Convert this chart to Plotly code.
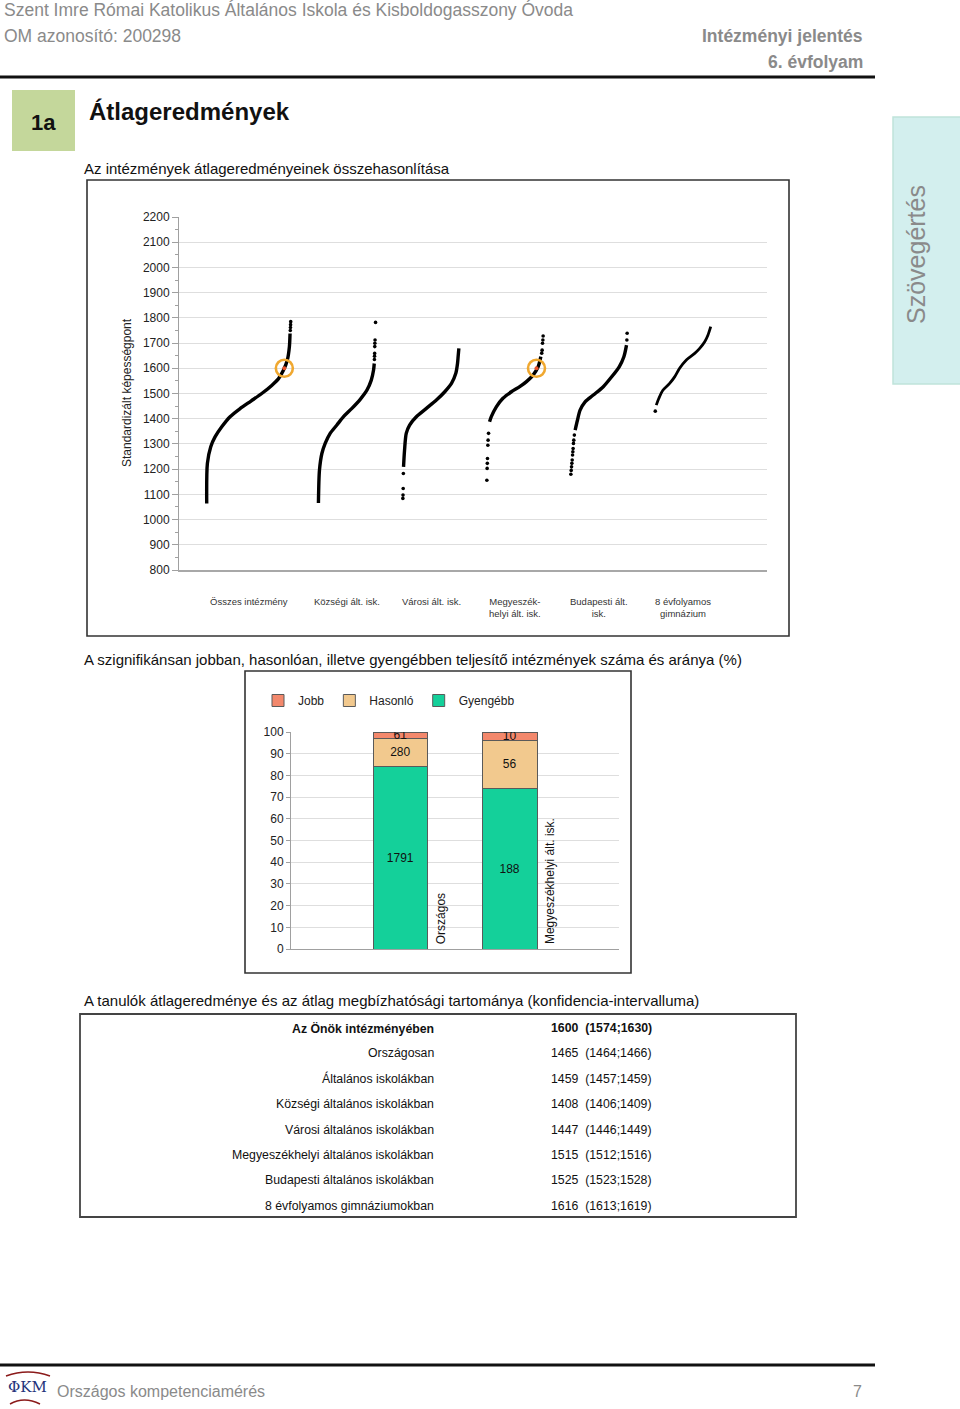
import plotly.graph_objects as go

W, H = 960, 1409


def px(x):
    return x / W


def py(y):
    return 1 - y / H


FONT = "Liberation Sans, Arial, sans-serif"
NARROW = "Liberation Sans Narrow, Arial Narrow, Liberation Sans, Arial, sans-serif"

# ---------------- data: chart 1 (sorted institution averages) ----------------
group_labels = ["Összes intézmény", "Községi ált. isk.", "Városi ált. isk.",
                "Megyeszék-<br>helyi ált. isk.", "Budapesti ált.<br>isk.",
                "8 évfolyamos<br>gimnázium"]
group_centers = [0.83, 2.0, 3.0, 4.0, 5.0, 6.0]
group_widths = [1.0, 0.68, 0.67, 0.67, 0.67, 0.66]

# rank (percent within group) and score along each dense curve
main_pct = [
    [0, 0.8, 4.8, 9.9, 17.9, 27.8, 39.7, 52.7, 65.5, 77.4, 85.3, 91.3, 96.0, 98.4, 99.2],
    [0, 1.8, 6.0, 11.8, 20.5, 32.3, 43.9, 58.6, 73.2, 84.9, 92.5, 96.5, 97.7],
    [1.2, 3.0, 6.0, 12.0, 24.0, 41.8, 59.6, 74.5, 86.4, 94.1, 97.1, 98.2, 99.5],
    [4.8, 7.9, 16.8, 28.6, 43.6, 58.4, 70.4, 82.1, 91.1, 95.9],
    [7.6, 11.7, 16.4, 25.3, 39.9, 57.6, 72.4, 85.9, 94.2, 98.9],
    [1.8, 6.5, 13.7, 25.9, 34.9, 43.9, 56.0, 71.1, 80.1, 89.2, 95.1, 100],
]
main_score = [
    [1064, 1223, 1289, 1328, 1368, 1408, 1440, 1470, 1500, 1532, 1558, 1592, 1633, 1685, 1738],
    [1066, 1196, 1262, 1302, 1342, 1375, 1408, 1441, 1477, 1513, 1553, 1593, 1619],
    [1209, 1275, 1342, 1375, 1408, 1441, 1474, 1507, 1540, 1580, 1619, 1646, 1679],
    [1388, 1408, 1447, 1481, 1507, 1527, 1547, 1573, 1606, 1646],
    [1355, 1394, 1434, 1467, 1494, 1527, 1566, 1606, 1646, 1692],
    [1454, 1481, 1513, 1540, 1566, 1600, 1633, 1659, 1679, 1705, 1732, 1765],
]
# isolated institutions at the ends of the curves
sparse_pct = [
    [99.5, 99.7, 99.85, 100],
    [98.0, 98.2, 98.4, 98.6, 98.8, 99.1, 100],
    [0, 0.3, 0.6, 0.9],
    [0, 0.5, 0.8, 1.1, 1.8, 2.2, 3.0, 97.5, 98.2, 98.9, 99.5, 100],
    [0, 0.6, 1.2, 1.8, 2.4, 3.0, 3.5, 4.0, 4.6, 5.2, 6.2, 99.5, 100],
    [0],
]
sparse_score = [
    [1750, 1762, 1773, 1785],
    [1635, 1648, 1659, 1686, 1699, 1712, 1782],
    [1084, 1097, 1123, 1183],
    [1156, 1203, 1223, 1242, 1295, 1315, 1342, 1660, 1672, 1699, 1712, 1728],
    [1180, 1195, 1209, 1223, 1236, 1256, 1269, 1282, 1302, 1315, 1335, 1712, 1739],
    [1430],
]
school_score = 1600
school_groups = [0, 3]
school_pct = [92.4, 88.2]

# ---------------- data: chart 2 (significance counts) ----------------
bar_categories = ["Országos", "Megyeszékhelyi ált. isk."]
bar_x = [0, 1]
count_jobb = [61, 10]
count_hasonlo = [280, 56]
count_gyengebb = [1791, 188]

# ---------------- data: table ----------------
table_labels = ["Az Önök intézményében", "Országosan", "Általános iskolákban",
                "Községi általános iskolákban", "Városi általános iskolákban",
                "Megyeszékhelyi általános iskolákban", "Budapesti általános iskolákban",
                "8 évfolyamos gimnáziumokban"]
table_mean = [1600, 1465, 1459, 1408, 1447, 1515, 1525, 1616]
table_lo = [1574, 1464, 1457, 1406, 1446, 1512, 1523, 1613]
table_hi = [1630, 1466, 1459, 1409, 1449, 1516, 1528, 1619]


def xpos(g, pcts):
    left = group_centers[g] - group_widths[g] / 2
    return [left + p / 100 * group_widths[g] for p in pcts]


fig = go.Figure()

for g in range(len(group_labels)):
    fig.add_trace(go.Scatter(
        x=xpos(g, main_pct[g]), y=main_score[g], mode="lines",
        line=dict(color="black", width=2.8 if g == 5 else 3.4, shape="spline", smoothing=0.8),
        showlegend=False, hoverinfo="skip", xaxis="x", yaxis="y"))
    fig.add_trace(go.Scatter(
        x=xpos(g, sparse_pct[g]), y=sparse_score[g], mode="markers",
        marker=dict(color="black", size=3.6),
        showlegend=False, hoverinfo="skip", xaxis="x", yaxis="y"))

sx = [xpos(g, [p])[0] for g, p in zip(school_groups, school_pct)]
fig.add_trace(go.Scatter(
    x=sx, y=[school_score] * len(sx), mode="markers",
    marker=dict(color="#e8502a", size=4),
    showlegend=False, hoverinfo="skip", xaxis="x", yaxis="y"))
fig.add_trace(go.Scatter(
    x=sx, y=[school_score] * len(sx), mode="markers",
    marker=dict(symbol="circle-open", size=17, color="#f0a830",
                line=dict(color="#f0a830", width=2.6)),
    showlegend=False, hoverinfo="skip", xaxis="x", yaxis="y"))

# stacked percentage bars
totals = [a + b + c for a, b, c in zip(count_jobb, count_hasonlo, count_gyengebb)]


def pct(counts):
    return [c / t * 100 for c, t in zip(counts, totals)]


for name, counts, color in [("Gyengébb", count_gyengebb, "#14d09a"),
                            ("Hasonló", count_hasonlo, "#f2c98e"),
                            ("Jobb", count_jobb, "#f3886c")]:
    fig.add_trace(go.Bar(
        x=bar_x, y=pct(counts), name=name, width=0.5,
        marker=dict(color=color, line=dict(color="#5a5a5a", width=1)),
        text=[str(c) for c in counts], textposition="inside",
        insidetextanchor="middle", textangle=0, constraintext="none",
        textfont=dict(family=FONT, size=12, color="#111"),
        hoverinfo="skip", xaxis="x2", yaxis="y2"))

ann = []


def A(x, y, text, size, color="#111", xanchor="left", yanchor="middle", bold=False,
      family=FONT, **kw):
    if bold:
        text = "<b>" + text + "</b>"
    d = dict(x=x, y=y, xref=kw.pop("xref", "paper"), yref=kw.pop("yref", "paper"),
             text=text, showarrow=False, xanchor=xanchor, yanchor=yanchor,
             font=dict(family=family, size=size, color=color))
    d.update(kw)
    ann.append(d)


# header
A(px(2), py(10), "Szent Imre Római Katolikus Általános Iskola és Kisboldogasszony Óvoda", 17.5,
  "#8a8a8a", family=NARROW)
A(px(2), py(36), "OM azonosító: 200298", 17.5, "#8a8a8a", family=NARROW)
A(px(865), py(36), "Intézményi jelentés", 17.5, "#8a8a8a", xanchor="right", bold=True,
  family=NARROW)
A(px(865), py(62), "6. évfolyam", 17.5, "#8a8a8a", xanchor="right", bold=True, family=NARROW)

A(px(43.5), py(122), "1a", 22, "#111", xanchor="center", bold=True)
A(px(87), py(111), "Átlageredmények", 24, "#111", bold=True)
A(px(82), py(169), "Az intézmények átlageredményeinek összehasonlítása", 15, "#111")
A(px(916), py(255), "Szövegértés", 25, "#8a8a8a", xanchor="center", textangle=-90)

# chart 1 texts
A(px(127), py(393), "Standardizált képességpont", 12, "#222", xanchor="center", textangle=-90)
for c, lab in zip(group_centers, group_labels):
    A(c, py(594), lab, 9.5, "#333", xanchor="center", yanchor="top", xref="x")

A(px(82), py(659), "A szignifikánsan jobban, hasonlóan, illetve gyengébben teljesítő intézmények "
  "száma és aránya (%)", 15, "#111")

# chart 2 rotated category labels
for xb, lab in zip(bar_x, bar_categories):
    A(xb + 0.37, 0, lab, 12, "#111", xanchor="center", yanchor="bottom", xref="x2", yref="y2",
      textangle=-90, yshift=3)

A(px(82), py(1000), "A tanulók átlageredménye és az átlag megbízhatósági tartománya "
  "(konfidencia-intervalluma)", 15, "#111")

for i, (lab, m, lo, hi) in enumerate(zip(table_labels, table_mean, table_lo, table_hi)):
    yy = py(1028 + i * 25.4)
    A(px(436), yy, lab, 12.3, "#111", xanchor="right", bold=(i == 0))
    A(px(549), yy, f"{m}\u00a0\u00a0({lo};{hi})", 12.3, "#111", bold=(i == 0))

# footer
A(px(55), py(1391), "Országos kompetenciamérés", 16, "#8a8a8a")
A(px(864), py(1391), "7", 16, "#8a8a8a", xanchor="right")
A(px(27), py(1387), "ΦKM", 15, "#23327a", xanchor="center", family="DejaVu Serif, serif")

shapes = [
    dict(type="line", xref="paper", yref="paper", x0=0, x1=px(875), y0=py(77), y1=py(77),
         line=dict(color="#111", width=3)),
    dict(type="line", xref="paper", yref="paper", x0=0, x1=px(875), y0=py(1365), y1=py(1365),
         line=dict(color="#111", width=3)),
    dict(type="rect", xref="paper", yref="paper", x0=px(12), x1=px(75), y0=py(151), y1=py(90),
         fillcolor="#c4d79b", line=dict(width=0), layer="below"),
    dict(type="rect", xref="paper", yref="paper", x0=px(893), x1=px(961), y0=py(384), y1=py(117),
         fillcolor="#d3efee", line=dict(color="#c0e4da", width=1.5), layer="below"),
    dict(type="rect", xref="paper", yref="paper", x0=px(87), x1=px(789), y0=py(636), y1=py(180),
         line=dict(color="#333", width=1.6)),
    dict(type="rect", xref="paper", yref="paper", x0=px(245), x1=px(631), y0=py(973), y1=py(671),
         line=dict(color="#333", width=1.6)),
    dict(type="rect", xref="paper", yref="paper", x0=px(80), x1=px(796), y0=py(1217), y1=py(1014),
         line=dict(color="#444", width=1.8)),
    dict(type="path", xref="paper", yref="paper",
         path=f"M {px(6)},{py(1376)} Q {px(28)},{py(1368)} {px(50)},{py(1376)}",
         line=dict(color="#8b1a1a", width=1.5)),
    dict(type="path", xref="paper", yref="paper",
         path=f"M {px(10)},{py(1404)} Q {px(24)},{py(1396)} {px(40)},{py(1404)}",
         line=dict(color="#8b1a1a", width=1.5)),
]

axis_common = dict(zeroline=False, fixedrange=True, automargin=False)
fig.update_layout(
    width=W, height=H, margin=dict(l=0, r=0, t=0, b=0, pad=0, autoexpand=False),
    paper_bgcolor="white", plot_bgcolor="white",
    font=dict(family=FONT, color="#111"),
    barmode="stack",
    xaxis=dict(domain=[px(179), px(767)], range=[0, 7], showgrid=False, showline=True,
               linecolor="#a8a8a8", linewidth=1.5, showticklabels=False, ticks="",
               anchor="y", **axis_common),
    yaxis=dict(domain=[py(570), py(217)], range=[800, 2200], dtick=100, tick0=800,
               showgrid=True, gridcolor="#dedede", showline=True, linecolor="#a0a0a0",
               ticks="outside", ticklen=6, tickcolor="#a0a0a0",
               minor=dict(dtick=50, ticklen=3, ticks="outside", tickcolor="#a0a0a0",
                          showgrid=False),
               tickfont=dict(family=FONT, size=12, color="#222"), anchor="x", **axis_common),
    xaxis2=dict(domain=[px(291), px(619)], range=[-1, 2], showgrid=False, showline=True,
                linecolor="#a0a0a0", showticklabels=False, ticks="", anchor="y2", **axis_common),
    yaxis2=dict(domain=[py(949), py(732)], range=[0, 100], dtick=10, showgrid=True,
                gridcolor="#dedede", showline=True, linecolor="#a0a0a0", ticks="outside",
                ticklen=4, tickcolor="#a0a0a0",
                tickfont=dict(family=FONT, size=12, color="#222"), anchor="x2", **axis_common),
    showlegend=True,
    legend=dict(orientation="h", x=px(258), y=py(686), xanchor="left", yanchor="top",
                traceorder="reversed", font=dict(family=FONT, size=12, color="#222"),
                bgcolor="rgba(0,0,0,0)", itemwidth=30),
    annotations=ann, shapes=shapes,
)

fig.write_html(
    "out.html",
    config={"displayModeBar": False, "responsive": False},
    post_script=("document.body.style.margin='0';document.body.style.padding='0';"
                 "var g=document.getElementById('{plot_id}');g.style.position='absolute';"
                 "g.style.left='0px';g.style.top='0px';"),
)
